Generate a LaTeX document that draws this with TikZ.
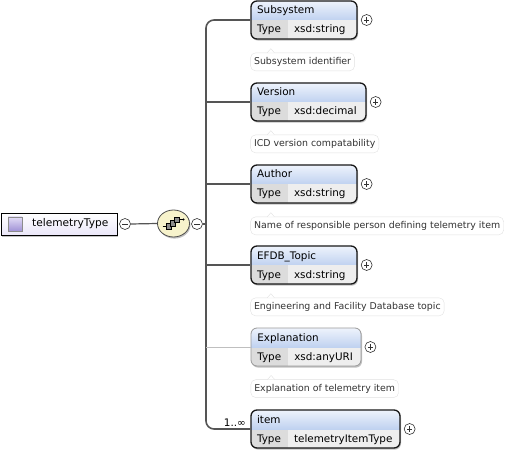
\documentclass[tikz,border=0pt]{standalone}
\usepackage{fontspec}
\setmainfont{DejaVu Sans}
\usetikzlibrary{positioning,shadows,shapes.geometric}

\definecolor{hdtop}{RGB}{238,243,252}
\definecolor{hdbot}{RGB}{192,210,240}
\definecolor{typecell}{RGB}{220,220,220}
\definecolor{valcell}{RGB}{238,238,238}
\definecolor{buscol}{RGB}{85,85,85}
\definecolor{notecol}{RGB}{225,225,225}
\definecolor{seqfill}{RGB}{247,243,204}
\definecolor{lavtop}{RGB}{226,220,246}
\definecolor{lavbot}{RGB}{160,146,214}

\tikzset{
  boxshadow/.style={drop shadow={shadow xshift=1pt, shadow yshift=-1.6pt, opacity=0.35, fill=black!70}},
  elembox/.style={draw=black!90, line width=1.3pt, rounded corners=6pt, minimum height=38pt,
    inner sep=0pt, boxshadow,
    path picture={
      \fill[typecell, sharp corners] (path picture bounding box.west) rectangle ([xshift=37pt]path picture bounding box.south west);
      \fill[valcell, sharp corners] ([xshift=37pt]path picture bounding box.west) rectangle (path picture bounding box.south east);
      \shade[top color=hdtop, bottom color=hdbot, sharp corners] (path picture bounding box.north west) rectangle (path picture bounding box.east);
    }},
  optbox/.style={elembox, draw=black!40, line width=0.8pt},
  boxtext/.style={anchor=base west, inner sep=0pt, font=\fontsize{10.4}{12}\selectfont},
  docnote/.style={draw=notecol, fill=white, rounded corners=5pt, minimum height=18pt, inner xsep=3.5pt,
    inner ysep=0pt, text=black!80, font=\fontsize{9.4}{11}\selectfont},
  expander/.style={circle, draw=black!80, fill=white, minimum size=11pt, inner sep=0pt, line width=0.6pt},
  minusbox/.style={expander, path picture={
      \draw[line width=0.8pt] ([xshift=-2.6pt]path picture bounding box.center) -- ([xshift=2.6pt]path picture bounding box.center);}},
  plusbox/.style={expander, path picture={
      \draw[line width=0.8pt] ([xshift=-2.6pt]path picture bounding box.center) -- ([xshift=2.6pt]path picture bounding box.center);
      \draw[line width=0.8pt] ([yshift=-2.6pt]path picture bounding box.center) -- ([yshift=2.6pt]path picture bounding box.center);}},
  bus/.style={draw=buscol, line width=1.6pt},
  optbus/.style={draw=black!25, line width=0.6pt},
}

\begin{document}
\begin{tikzpicture}[x=1pt,y=-1pt]
\useasboundingbox (0,0) rectangle (519,454);

% root element
\node[draw=black, line width=0.9pt, minimum width=116pt, minimum height=22pt, inner sep=0pt,
  top color=white, bottom color=lavtop!70, boxshadow] (root) at (59,224) {};
\node[draw=black!45, line width=0.5pt, minimum size=14pt, inner sep=0pt,
  top color=lavtop, bottom color=lavbot] (rooticon) at (15,224) {};
\node[anchor=west, inner sep=0pt, font=\fontsize{10.6}{12}\selectfont] (rootname) at (32,224) {telemetryType};
\node[minusbox] (rootm) at (125,224) {};

% sequence compositor
\node[ellipse, draw=black!70, line width=0.8pt, fill=seqfill, minimum width=32pt, minimum height=27pt,
  inner sep=0pt, boxshadow] (seq) at (173.5,223.5) {};
\begin{scope}[shift={(seq.center)}]
  \draw[line width=0.7pt] (-11,2.5) -- (-5,2.5);
  \draw[line width=0.7pt] (5,-4) -- (10,-4);
  \fill (10,-4) circle (1.1);
  \filldraw[draw=black, fill=black!45, line width=0.5pt] (-7.5,0) rectangle (-2,5.5);
  \filldraw[draw=black, fill=black!45, line width=0.5pt] (-3.5,-3) rectangle (2,2.5);
  \filldraw[draw=black, fill=black!45, line width=0.5pt] (0.5,-6.5) rectangle (6,-1);
\end{scope}
\node[minusbox] (seqm) at (197,224) {};
\draw[bus, line width=1.2pt] (rootm.east) -- (seq.west);
\coordinate (busx) at (206,224);

% child elements
\node[elembox, minimum width=106pt] (sub) at (304,20) {};
\node[boxtext] at ([xshift=6.5pt,yshift=6pt]sub.west) {Subsystem};
\node[boxtext] at ([xshift=6.5pt,yshift=-13pt]sub.west) {Type};
\node[boxtext] at ([xshift=43.5pt,yshift=-13pt]sub.west) {xsd:string};
\node[plusbox] (subx) at ([xshift=9pt]sub.east) {};
\node[docnote, below right=13pt and 0pt of sub.south west] (subdoc) {Subsystem identifier};

\node[elembox, minimum width=115pt] (ver) at (308.5,102) {};
\node[boxtext] at ([xshift=6.5pt,yshift=6pt]ver.west) {Version};
\node[boxtext] at ([xshift=6.5pt,yshift=-13pt]ver.west) {Type};
\node[boxtext] at ([xshift=43.5pt,yshift=-13pt]ver.west) {xsd:decimal};
\node[plusbox] (verx) at ([xshift=9pt]ver.east) {};
\node[docnote, below right=13pt and 0pt of ver.south west] (verdoc) {ICD version compatability};

\node[elembox, minimum width=106pt] (aut) at (304,184) {};
\node[boxtext] at ([xshift=6.5pt,yshift=6pt]aut.west) {Author};
\node[boxtext] at ([xshift=6.5pt,yshift=-13pt]aut.west) {Type};
\node[boxtext] at ([xshift=43.5pt,yshift=-13pt]aut.west) {xsd:string};
\node[plusbox] (autx) at ([xshift=9pt]aut.east) {};
\node[docnote, below right=13pt and 0pt of aut.south west] (autdoc) {Name of responsible person defining telemetry item};

\node[elembox, minimum width=106pt] (efdb) at (304,265) {};
\node[boxtext] at ([xshift=6.5pt,yshift=6pt]efdb.west) {EFDB\_Topic};
\node[boxtext] at ([xshift=6.5pt,yshift=-13pt]efdb.west) {Type};
\node[boxtext] at ([xshift=43.5pt,yshift=-13pt]efdb.west) {xsd:string};
\node[plusbox] (efdbx) at ([xshift=9pt]efdb.east) {};
\node[docnote, below right=13pt and 0pt of efdb.south west] (efdbdoc) {Engineering and Facility Database topic};

\node[optbox, minimum width=110pt] (expl) at (306,347) {};
\node[boxtext] at ([xshift=6.5pt,yshift=6pt]expl.west) {Explanation};
\node[boxtext] at ([xshift=6.5pt,yshift=-13pt]expl.west) {Type};
\node[boxtext] at ([xshift=43.5pt,yshift=-13pt]expl.west) {xsd:anyURI};
\node[plusbox] (explx) at ([xshift=9pt]expl.east) {};
\node[docnote, below right=13pt and 0pt of expl.south west] (expldoc) {Explanation of telemetry item};

\node[elembox, minimum width=149pt] (item) at (325.5,429) {};
\node[boxtext] at ([xshift=6.5pt,yshift=6pt]item.west) {item};
\node[boxtext] at ([xshift=6.5pt,yshift=-13pt]item.west) {Type};
\node[boxtext] at ([xshift=43.5pt,yshift=-13pt]item.west) {telemetryItemType};
\node[plusbox] (itemx) at ([xshift=9pt]item.east) {};
\node[boxtext, anchor=base east] (itemocc) at (246,426) {1..∞};

% notches of the annotations
\foreach \d in {subdoc,verdoc,autdoc,efdbdoc,expldoc} {
  \fill[white] ([xshift=17pt]\d.north west) -- ([xshift=20.5pt,yshift=4pt]\d.north west) -- ([xshift=24pt]\d.north west) -- cycle;
  \draw[notecol, line width=0.4pt] ([xshift=17pt]\d.north west) -- ([xshift=20.5pt,yshift=4pt]\d.north west) -- ([xshift=24pt]\d.north west);
}

% connectors
\draw[bus, rounded corners=8pt] (sub.west) -| (busx) |- (item.west);
\draw[bus] (seqm.east) -- (busx);
\draw[bus] (busx |- ver.west) -- (ver.west);
\draw[bus] (busx |- aut.west) -- (aut.west);
\draw[bus] (busx |- efdb.west) -- (efdb.west);
\draw[optbus] (busx |- expl.west) -- (expl.west);
\end{tikzpicture}
\end{document}
